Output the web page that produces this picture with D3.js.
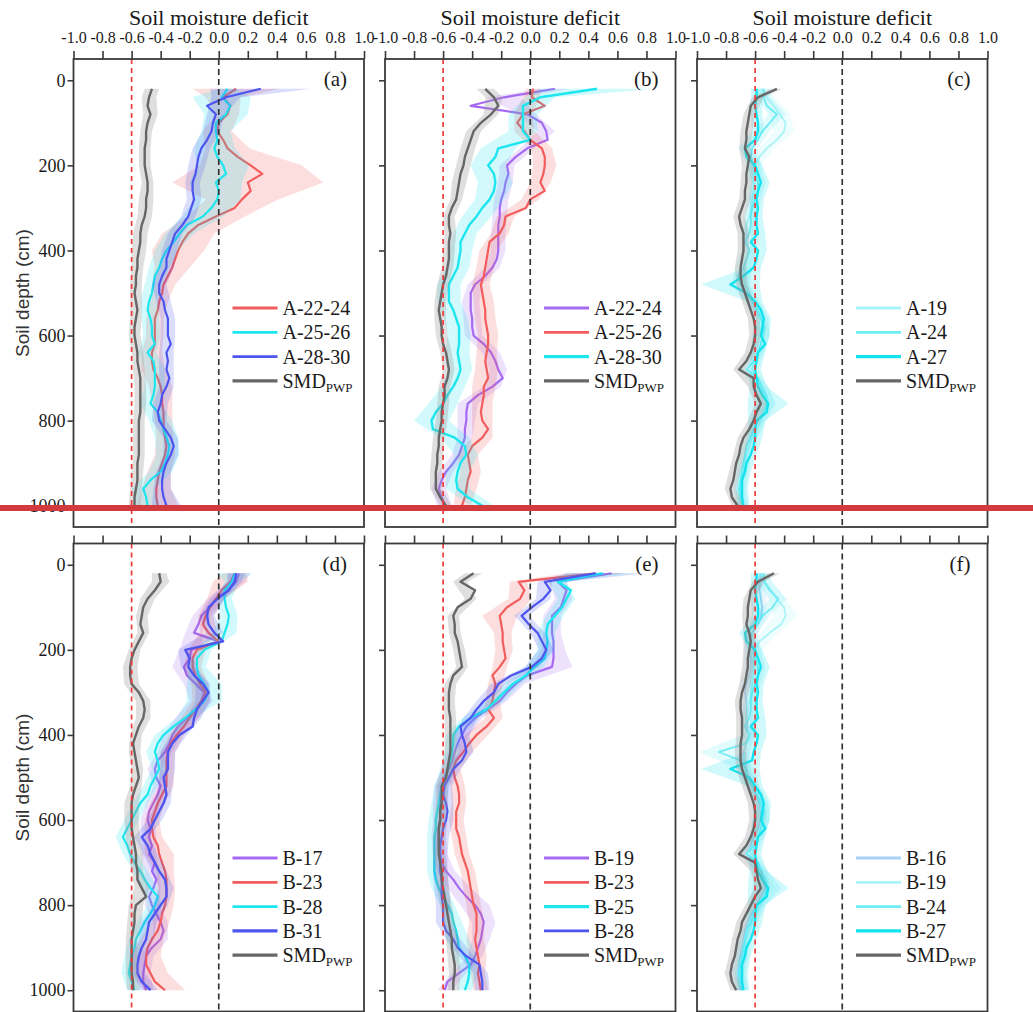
<!DOCTYPE html>
<html><head><meta charset="utf-8">
<script src="https://cdn.jsdelivr.net/npm/d3@7"></script>
<style>body{margin:0;background:#fff}</style>
</head><body>
<svg id="chart" width="1033" height="1012"></svg>
<script>
// ---------------- DATA ----------------
const depthCm = [20,40,60,80,100,120,140,160,180,200,220,240,260,280,300,320,340,360,380,400,420,440,460,480,500,520,540,560,580,600,620,640,660,680,700,720,740,760,780,800,820,840,860,880,900,920,940,960,980,1000];
const bandDepthCm = [20,40,80,120,160,200,240,280,320,360,400,440,480,520,560,600,640,680,720,760,800,840,880,920,960,1000];
const xTickValues = [-1.0,-0.8,-0.6,-0.4,-0.2,0.0,0.2,0.4,0.6,0.8,1.0];
const xTickLabels = ["-1.0","-0.8","-0.6","-0.4","-0.2","0.0","0.2","0.4","0.6","0.8","1.0"];
const yTickValues = [0,200,400,600,800,1000];
const panelTags = ["(a)","(b)","(c)","(d)","(e)","(f)"];
const titleText = "Soil moisture deficit";
const yTitleText = "Soil depth (cm)";
const pwpLine = -0.6;
const zeroLine = 0.0;

// panel (a)
const a_A2224 = [0.12,0.03,0.08,0.06,0.00,-0.01,0.03,0.06,0.13,0.22,0.30,0.20,0.22,0.16,0.11,-0.02,-0.14,-0.21,-0.25,-0.28,-0.30,-0.32,-0.35,-0.38,-0.39,-0.41,-0.42,-0.44,-0.44,-0.44,-0.44,-0.46,-0.46,-0.45,-0.42,-0.40,-0.39,-0.39,-0.38,-0.38,-0.38,-0.37,-0.36,-0.37,-0.39,-0.41,-0.42,-0.43,-0.43,-0.42];
const a_A2526 = [0.06,0.02,0.08,0.05,-0.02,-0.02,-0.01,-0.03,-0.01,0.03,0.05,-0.02,0.00,-0.01,-0.05,-0.11,-0.22,-0.27,-0.31,-0.36,-0.39,-0.41,-0.44,-0.45,-0.46,-0.48,-0.49,-0.47,-0.46,-0.46,-0.44,-0.49,-0.45,-0.44,-0.44,-0.44,-0.45,-0.47,-0.42,-0.40,-0.38,-0.36,-0.34,-0.35,-0.37,-0.40,-0.47,-0.52,-0.50,-0.49];
const a_A2830 = [0.29,0.05,-0.08,-0.02,-0.04,-0.05,-0.08,-0.12,-0.14,-0.15,-0.16,-0.18,-0.18,-0.17,-0.19,-0.21,-0.25,-0.30,-0.32,-0.34,-0.36,-0.36,-0.39,-0.41,-0.41,-0.38,-0.37,-0.35,-0.35,-0.35,-0.33,-0.36,-0.35,-0.36,-0.34,-0.36,-0.39,-0.40,-0.42,-0.41,-0.37,-0.33,-0.31,-0.33,-0.36,-0.38,-0.39,-0.39,-0.38,-0.36];
const a_SMD = [-0.46,-0.48,-0.49,-0.47,-0.49,-0.50,-0.50,-0.51,-0.51,-0.51,-0.50,-0.49,-0.49,-0.50,-0.50,-0.51,-0.53,-0.54,-0.54,-0.55,-0.56,-0.56,-0.57,-0.57,-0.58,-0.57,-0.56,-0.57,-0.58,-0.58,-0.57,-0.56,-0.56,-0.55,-0.54,-0.54,-0.54,-0.54,-0.54,-0.55,-0.55,-0.55,-0.55,-0.55,-0.56,-0.56,-0.56,-0.57,-0.58,-0.58];
const a_A2224_sd = [0.30,0.12,0.08,0.10,0.15,0.35,0.52,0.25,0.20,0.18,0.18,0.12,0.08,0.06,0.06,0.06,0.07,0.08,0.08,0.07,0.06,0.06,0.07,0.08,0.10,0.14];
const a_A2526_sd = [0.06,0.20,0.15,0.10,0.14,0.18,0.18,0.16,0.14,0.10,0.08,0.07,0.06,0.06,0.06,0.06,0.06,0.07,0.07,0.07,0.08,0.08,0.08,0.08,0.08,0.08];
const a_A2830_sd = [0.35,0.10,0.06,0.06,0.06,0.06,0.05,0.05,0.05,0.05,0.05,0.05,0.05,0.05,0.05,0.05,0.05,0.05,0.05,0.05,0.05,0.05,0.05,0.05,0.06,0.10];
const a_SMD_sd = [0.05,0.05,0.05,0.04,0.04,0.04,0.04,0.05,0.05,0.05,0.05,0.04,0.04,0.04,0.04,0.04,0.04,0.04,0.04,0.04,0.04,0.04,0.04,0.04,0.04,0.04];

// panel (b)
const b_A2224 = [0.17,-0.18,-0.41,-0.02,0.08,0.11,0.12,-0.02,-0.10,-0.16,-0.15,-0.17,-0.18,-0.20,-0.21,-0.21,-0.22,-0.22,-0.22,-0.22,-0.23,-0.26,-0.31,-0.38,-0.41,-0.41,-0.41,-0.40,-0.40,-0.39,-0.32,-0.27,-0.24,-0.22,-0.19,-0.26,-0.36,-0.43,-0.44,-0.44,-0.45,-0.45,-0.47,-0.49,-0.53,-0.58,-0.61,-0.63,-0.61,-0.59];
const b_A2526 = [0.02,0.01,0.10,-0.05,-0.09,-0.04,0.00,0.08,0.10,0.10,0.09,0.07,0.10,0.00,-0.03,-0.17,-0.18,-0.21,-0.28,-0.29,-0.30,-0.31,-0.32,-0.34,-0.33,-0.32,-0.31,-0.31,-0.30,-0.29,-0.29,-0.30,-0.31,-0.30,-0.29,-0.32,-0.32,-0.33,-0.34,-0.33,-0.29,-0.33,-0.40,-0.43,-0.42,-0.41,-0.43,-0.44,-0.45,-0.47];
const b_A2830 = [0.46,0.07,-0.05,-0.05,-0.05,-0.05,0.00,-0.22,-0.24,-0.29,-0.25,-0.24,-0.25,-0.28,-0.33,-0.37,-0.42,-0.45,-0.48,-0.48,-0.49,-0.50,-0.53,-0.56,-0.56,-0.56,-0.53,-0.51,-0.49,-0.49,-0.49,-0.50,-0.49,-0.48,-0.50,-0.53,-0.57,-0.60,-0.65,-0.68,-0.67,-0.52,-0.45,-0.44,-0.48,-0.50,-0.51,-0.50,-0.43,-0.33];
const b_SMD = [-0.31,-0.25,-0.22,-0.27,-0.34,-0.39,-0.41,-0.43,-0.45,-0.46,-0.48,-0.49,-0.50,-0.51,-0.54,-0.56,-0.56,-0.55,-0.56,-0.56,-0.56,-0.57,-0.58,-0.60,-0.61,-0.62,-0.63,-0.62,-0.61,-0.61,-0.60,-0.58,-0.57,-0.56,-0.57,-0.59,-0.59,-0.60,-0.61,-0.61,-0.62,-0.63,-0.63,-0.64,-0.64,-0.65,-0.65,-0.65,-0.62,-0.58];
const b_A2224_sd = [0.10,0.12,0.06,0.06,0.05,0.05,0.05,0.05,0.05,0.05,0.05,0.05,0.05,0.06,0.06,0.06,0.06,0.06,0.06,0.07,0.06,0.05,0.05,0.05,0.05,0.05];
const b_A2526_sd = [0.05,0.06,0.06,0.07,0.07,0.08,0.07,0.06,0.06,0.06,0.06,0.06,0.06,0.07,0.07,0.07,0.07,0.08,0.08,0.07,0.07,0.07,0.07,0.07,0.07,0.06];
const b_A2830_sd = [0.40,0.10,0.10,0.10,0.12,0.12,0.12,0.10,0.10,0.08,0.08,0.08,0.08,0.08,0.08,0.08,0.08,0.08,0.08,0.10,0.12,0.10,0.08,0.08,0.08,0.08];
const b_SMD_sd = [0.06,0.06,0.05,0.05,0.05,0.05,0.05,0.04,0.04,0.04,0.04,0.04,0.04,0.04,0.04,0.04,0.04,0.04,0.04,0.04,0.04,0.04,0.04,0.04,0.04,0.04];

// panel (c)
const c_A19 = [-0.55,-0.52,-0.47,-0.43,-0.39,-0.40,-0.45,-0.52,-0.57,-0.60,-0.61,-0.61,-0.61,-0.62,-0.63,-0.64,-0.66,-0.66,-0.66,-0.64,-0.66,-0.67,-0.68,-0.67,-0.64,-0.61,-0.58,-0.55,-0.53,-0.54,-0.56,-0.58,-0.60,-0.62,-0.58,-0.55,-0.52,-0.51,-0.54,-0.56,-0.59,-0.62,-0.64,-0.66,-0.67,-0.68,-0.69,-0.70,-0.69,-0.68];
const c_A24 = [-0.54,-0.54,-0.52,-0.45,-0.50,-0.55,-0.58,-0.62,-0.63,-0.61,-0.60,-0.58,-0.58,-0.60,-0.62,-0.63,-0.63,-0.64,-0.67,-0.64,-0.66,-0.68,-0.72,-0.70,-0.66,-0.62,-0.59,-0.56,-0.54,-0.55,-0.56,-0.58,-0.61,-0.66,-0.58,-0.56,-0.53,-0.52,-0.54,-0.58,-0.61,-0.63,-0.66,-0.67,-0.68,-0.69,-0.70,-0.71,-0.70,-0.69];
const c_A27 = [-0.59,-0.59,-0.60,-0.59,-0.58,-0.58,-0.60,-0.67,-0.66,-0.60,-0.58,-0.56,-0.58,-0.59,-0.58,-0.59,-0.59,-0.58,-0.63,-0.58,-0.59,-0.61,-0.68,-0.77,-0.66,-0.60,-0.56,-0.54,-0.55,-0.56,-0.53,-0.58,-0.59,-0.60,-0.59,-0.58,-0.55,-0.51,-0.52,-0.59,-0.60,-0.60,-0.61,-0.63,-0.66,-0.67,-0.69,-0.69,-0.69,-0.68];
const c_SMD = [-0.45,-0.58,-0.63,-0.64,-0.65,-0.66,-0.66,-0.67,-0.64,-0.65,-0.66,-0.66,-0.67,-0.67,-0.69,-0.71,-0.70,-0.68,-0.68,-0.68,-0.69,-0.70,-0.70,-0.69,-0.67,-0.65,-0.63,-0.61,-0.60,-0.60,-0.61,-0.63,-0.66,-0.71,-0.61,-0.61,-0.59,-0.56,-0.59,-0.61,-0.64,-0.68,-0.70,-0.71,-0.73,-0.74,-0.75,-0.77,-0.76,-0.72];
const c_A19_sd = [0.04,0.05,0.07,0.07,0.05,0.04,0.04,0.04,0.04,0.04,0.04,0.04,0.04,0.04,0.04,0.04,0.04,0.04,0.04,0.05,0.04,0.04,0.04,0.04,0.04,0.04];
const c_A24_sd = [0.04,0.05,0.06,0.05,0.04,0.05,0.05,0.04,0.04,0.05,0.05,0.06,0.06,0.05,0.05,0.05,0.04,0.04,0.05,0.06,0.05,0.04,0.04,0.04,0.04,0.04];
const c_A27_sd = [0.04,0.04,0.04,0.04,0.04,0.05,0.06,0.05,0.04,0.05,0.06,0.05,0.20,0.05,0.05,0.06,0.05,0.04,0.06,0.14,0.06,0.05,0.04,0.04,0.04,0.04];
const c_SMD_sd = [0.04,0.04,0.04,0.04,0.04,0.04,0.04,0.04,0.04,0.04,0.04,0.04,0.04,0.04,0.04,0.04,0.04,0.04,0.04,0.04,0.04,0.04,0.04,0.04,0.04,0.04];

// panel (d)
const d_B17 = [0.14,0.12,0.06,-0.02,-0.06,-0.12,-0.14,-0.17,0.00,-0.19,-0.20,-0.24,-0.22,-0.16,-0.10,-0.12,-0.16,-0.22,-0.28,-0.32,-0.34,-0.37,-0.42,-0.44,-0.43,-0.40,-0.42,-0.45,-0.48,-0.49,-0.47,-0.48,-0.46,-0.48,-0.44,-0.46,-0.43,-0.45,-0.48,-0.46,-0.43,-0.40,-0.38,-0.40,-0.46,-0.50,-0.51,-0.52,-0.52,-0.50];
const d_B23 = [0.11,0.08,0.02,-0.02,-0.06,-0.09,-0.11,-0.07,0.00,-0.15,-0.18,-0.18,-0.16,-0.13,-0.09,-0.12,-0.16,-0.20,-0.24,-0.29,-0.33,-0.35,-0.36,-0.36,-0.36,-0.36,-0.39,-0.42,-0.44,-0.46,-0.46,-0.45,-0.42,-0.41,-0.39,-0.37,-0.36,-0.36,-0.36,-0.37,-0.39,-0.40,-0.42,-0.46,-0.49,-0.50,-0.50,-0.47,-0.44,-0.37];
const d_B28 = [0.11,0.09,0.04,0.04,0.05,0.07,0.06,0.04,0.02,-0.10,-0.15,-0.15,-0.14,-0.10,-0.07,-0.10,-0.16,-0.23,-0.31,-0.38,-0.42,-0.44,-0.42,-0.41,-0.44,-0.47,-0.49,-0.54,-0.57,-0.60,-0.63,-0.66,-0.63,-0.61,-0.58,-0.54,-0.51,-0.47,-0.42,-0.44,-0.47,-0.51,-0.54,-0.57,-0.58,-0.60,-0.61,-0.62,-0.60,-0.58];
const d_B31 = [0.12,0.11,0.07,-0.01,-0.07,-0.08,-0.07,-0.03,0.03,-0.23,-0.20,-0.21,-0.17,-0.11,-0.07,-0.11,-0.15,-0.17,-0.18,-0.27,-0.32,-0.35,-0.35,-0.35,-0.38,-0.37,-0.36,-0.38,-0.41,-0.44,-0.47,-0.53,-0.49,-0.47,-0.44,-0.41,-0.37,-0.36,-0.36,-0.40,-0.44,-0.48,-0.49,-0.50,-0.53,-0.55,-0.56,-0.56,-0.53,-0.47];
const d_SMD = [-0.41,-0.40,-0.44,-0.49,-0.52,-0.53,-0.54,-0.52,-0.55,-0.58,-0.60,-0.61,-0.61,-0.60,-0.55,-0.52,-0.51,-0.52,-0.55,-0.57,-0.59,-0.58,-0.57,-0.56,-0.55,-0.57,-0.59,-0.60,-0.60,-0.60,-0.60,-0.59,-0.58,-0.57,-0.57,-0.56,-0.56,-0.53,-0.50,-0.57,-0.58,-0.58,-0.59,-0.60,-0.60,-0.60,-0.60,-0.60,-0.59,-0.59];
const d_B17_sd = [0.08,0.06,0.06,0.06,0.06,0.08,0.08,0.08,0.08,0.08,0.06,0.05,0.05,0.05,0.05,0.05,0.05,0.05,0.05,0.05,0.05,0.05,0.05,0.05,0.05,0.05];
const d_B23_sd = [0.08,0.12,0.06,0.05,0.06,0.06,0.06,0.06,0.06,0.06,0.05,0.05,0.05,0.05,0.05,0.05,0.06,0.10,0.06,0.06,0.06,0.06,0.08,0.10,0.12,0.14];
const d_B28_sd = [0.12,0.05,0.05,0.06,0.08,0.05,0.06,0.12,0.12,0.06,0.06,0.06,0.05,0.05,0.05,0.05,0.05,0.05,0.05,0.05,0.05,0.05,0.05,0.05,0.05,0.05];
const d_B31_sd = [0.06,0.05,0.05,0.05,0.06,0.05,0.05,0.05,0.05,0.05,0.05,0.05,0.05,0.05,0.05,0.05,0.05,0.05,0.05,0.05,0.05,0.05,0.05,0.05,0.05,0.05];
const d_SMD_sd = [0.05,0.06,0.05,0.04,0.04,0.04,0.05,0.05,0.05,0.05,0.04,0.04,0.04,0.04,0.05,0.05,0.05,0.05,0.04,0.05,0.05,0.05,0.04,0.04,0.04,0.04];

// panel (e)
const e_B19 = [0.56,0.19,0.25,0.23,0.21,0.15,0.15,0.15,0.16,0.16,0.16,0.15,-0.02,-0.10,-0.16,-0.21,-0.29,-0.38,-0.44,-0.47,-0.50,-0.52,-0.54,-0.56,-0.59,-0.61,-0.61,-0.62,-0.62,-0.62,-0.63,-0.63,-0.63,-0.62,-0.61,-0.58,-0.53,-0.49,-0.44,-0.38,-0.34,-0.32,-0.33,-0.34,-0.36,-0.38,-0.41,-0.49,-0.57,-0.59];
const e_B23 = [0.45,-0.08,-0.04,-0.07,-0.16,-0.21,-0.20,-0.19,-0.19,-0.18,-0.17,-0.21,-0.26,-0.24,-0.25,-0.26,-0.29,-0.25,-0.30,-0.37,-0.42,-0.46,-0.51,-0.53,-0.52,-0.50,-0.49,-0.49,-0.51,-0.51,-0.51,-0.49,-0.48,-0.47,-0.45,-0.43,-0.42,-0.41,-0.40,-0.39,-0.37,-0.37,-0.37,-0.38,-0.37,-0.36,-0.35,-0.36,-0.35,-0.34];
const e_B25 = [0.50,0.19,0.28,0.25,0.22,0.17,0.12,0.11,0.12,0.11,0.10,0.03,-0.03,-0.12,-0.18,-0.24,-0.30,-0.41,-0.49,-0.53,-0.53,-0.54,-0.55,-0.57,-0.58,-0.61,-0.62,-0.63,-0.64,-0.65,-0.65,-0.66,-0.66,-0.66,-0.66,-0.66,-0.65,-0.63,-0.60,-0.57,-0.54,-0.53,-0.51,-0.50,-0.49,-0.45,-0.42,-0.42,-0.43,-0.45];
const e_B28 = [0.45,0.10,0.14,0.09,0.01,-0.06,-0.01,0.05,0.08,0.11,0.08,0.01,-0.13,-0.22,-0.25,-0.32,-0.37,-0.41,-0.48,-0.47,-0.45,-0.44,-0.47,-0.53,-0.56,-0.59,-0.60,-0.58,-0.57,-0.58,-0.60,-0.61,-0.62,-0.62,-0.62,-0.62,-0.61,-0.61,-0.61,-0.60,-0.60,-0.60,-0.58,-0.53,-0.50,-0.44,-0.35,-0.34,-0.33,-0.33];
const e_SMD = [-0.39,-0.48,-0.38,-0.41,-0.50,-0.53,-0.52,-0.52,-0.50,-0.49,-0.48,-0.47,-0.53,-0.55,-0.56,-0.56,-0.56,-0.55,-0.55,-0.55,-0.55,-0.55,-0.56,-0.57,-0.58,-0.61,-0.61,-0.61,-0.62,-0.62,-0.63,-0.63,-0.63,-0.63,-0.62,-0.61,-0.61,-0.60,-0.59,-0.58,-0.57,-0.56,-0.55,-0.54,-0.54,-0.53,-0.52,-0.52,-0.53,-0.53];
const e_B19_sd = [0.25,0.06,0.06,0.06,0.06,0.08,0.14,0.06,0.05,0.05,0.05,0.05,0.05,0.05,0.05,0.05,0.05,0.05,0.06,0.08,0.10,0.08,0.06,0.05,0.05,0.05];
const e_B23_sd = [0.20,0.06,0.08,0.12,0.06,0.06,0.05,0.05,0.05,0.06,0.08,0.06,0.05,0.05,0.05,0.05,0.05,0.05,0.05,0.05,0.05,0.05,0.06,0.06,0.05,0.05];
const e_B25_sd = [0.25,0.06,0.06,0.06,0.06,0.06,0.06,0.06,0.06,0.06,0.05,0.05,0.05,0.05,0.05,0.05,0.05,0.05,0.05,0.05,0.05,0.06,0.08,0.08,0.06,0.05];
const e_B28_sd = [0.20,0.05,0.05,0.05,0.05,0.05,0.05,0.05,0.05,0.05,0.05,0.05,0.05,0.05,0.05,0.05,0.05,0.05,0.05,0.05,0.05,0.05,0.05,0.05,0.05,0.05];
const e_SMD_sd = [0.06,0.05,0.04,0.04,0.04,0.04,0.04,0.04,0.04,0.04,0.04,0.04,0.04,0.04,0.04,0.04,0.04,0.04,0.04,0.04,0.04,0.04,0.04,0.04,0.04,0.04];

// panel (f)
const f_B16 = [-0.56,-0.57,-0.57,-0.56,-0.55,-0.56,-0.58,-0.62,-0.63,-0.64,-0.63,-0.63,-0.64,-0.66,-0.67,-0.66,-0.65,-0.66,-0.65,-0.64,-0.66,-0.68,-0.68,-0.67,-0.65,-0.62,-0.59,-0.57,-0.56,-0.56,-0.58,-0.61,-0.63,-0.66,-0.59,-0.56,-0.54,-0.53,-0.56,-0.59,-0.62,-0.65,-0.67,-0.68,-0.69,-0.70,-0.71,-0.72,-0.71,-0.70];
const f_B19 = [-0.56,-0.53,-0.49,-0.45,-0.40,-0.39,-0.42,-0.50,-0.57,-0.60,-0.61,-0.61,-0.61,-0.62,-0.63,-0.64,-0.66,-0.66,-0.66,-0.64,-0.66,-0.67,-0.68,-0.67,-0.64,-0.61,-0.58,-0.55,-0.53,-0.54,-0.56,-0.58,-0.60,-0.62,-0.58,-0.55,-0.52,-0.51,-0.54,-0.56,-0.59,-0.62,-0.64,-0.66,-0.67,-0.68,-0.69,-0.70,-0.69,-0.68];
const f_B24 = [-0.54,-0.54,-0.50,-0.44,-0.48,-0.55,-0.58,-0.62,-0.63,-0.61,-0.60,-0.58,-0.58,-0.60,-0.62,-0.63,-0.63,-0.64,-0.67,-0.64,-0.66,-0.85,-0.70,-0.66,-0.66,-0.62,-0.59,-0.56,-0.54,-0.55,-0.56,-0.58,-0.61,-0.66,-0.58,-0.56,-0.53,-0.52,-0.54,-0.58,-0.61,-0.63,-0.66,-0.67,-0.68,-0.69,-0.70,-0.71,-0.70,-0.69];
const f_B27 = [-0.59,-0.59,-0.60,-0.59,-0.58,-0.58,-0.60,-0.67,-0.66,-0.60,-0.58,-0.56,-0.58,-0.59,-0.58,-0.59,-0.59,-0.58,-0.63,-0.58,-0.59,-0.61,-0.62,-0.77,-0.64,-0.60,-0.56,-0.54,-0.55,-0.56,-0.53,-0.58,-0.59,-0.60,-0.59,-0.58,-0.55,-0.51,-0.52,-0.59,-0.60,-0.60,-0.61,-0.63,-0.66,-0.67,-0.69,-0.69,-0.69,-0.68];
const f_SMD = [-0.47,-0.58,-0.63,-0.64,-0.65,-0.65,-0.66,-0.64,-0.63,-0.64,-0.65,-0.65,-0.66,-0.67,-0.69,-0.70,-0.70,-0.69,-0.69,-0.69,-0.70,-0.70,-0.70,-0.69,-0.67,-0.65,-0.63,-0.61,-0.60,-0.60,-0.61,-0.63,-0.66,-0.71,-0.60,-0.59,-0.58,-0.56,-0.60,-0.63,-0.66,-0.69,-0.70,-0.72,-0.73,-0.74,-0.76,-0.77,-0.76,-0.73];
const f_B16_sd = [0.04,0.04,0.04,0.04,0.04,0.04,0.04,0.04,0.04,0.04,0.04,0.04,0.04,0.04,0.04,0.04,0.04,0.04,0.04,0.04,0.04,0.04,0.04,0.04,0.04,0.04];
const f_B19_sd = [0.04,0.05,0.06,0.08,0.06,0.04,0.04,0.04,0.04,0.04,0.04,0.04,0.04,0.04,0.04,0.04,0.04,0.04,0.04,0.05,0.04,0.04,0.04,0.04,0.04,0.04];
const f_B24_sd = [0.04,0.05,0.06,0.05,0.04,0.05,0.05,0.04,0.04,0.05,0.05,0.13,0.06,0.05,0.05,0.05,0.04,0.04,0.05,0.10,0.05,0.04,0.04,0.04,0.04,0.04];
const f_B27_sd = [0.04,0.04,0.04,0.04,0.04,0.05,0.06,0.05,0.04,0.05,0.06,0.05,0.20,0.05,0.05,0.06,0.05,0.04,0.06,0.14,0.06,0.05,0.04,0.04,0.04,0.04];
const f_SMD_sd = [0.04,0.04,0.04,0.04,0.04,0.04,0.04,0.04,0.04,0.04,0.04,0.04,0.04,0.04,0.04,0.04,0.04,0.04,0.04,0.04,0.04,0.04,0.04,0.04,0.04,0.04];

// ---------------- STYLE / LAYOUT ----------------
const RED = "#f25c5c", CYAN = "#1de6ef", BLUE = "#4d55ee", PURPLE = "#a66af2", GRAY = "#666666";
const CY1 = "#a8f3f7", CY2 = "#6decf5", CY3 = "#12e3ee", LB = "#a9d2f5";
const SERIF = "'Liberation Serif','Times New Roman',serif";
const SANS = "'Liberation Sans',Arial,sans-serif";
const colLeft = [73.5, 385, 697];
const rowTop = [59, 543.5];
const PW = 290.5, PH = 468;
const legendTop = [308, 858];
const legendGap = 24.3;

const panels = [
  {col:0,row:0,series:[
    {name:"A-22-24",v:a_A2224,sd:a_A2224_sd,color:RED,w:2.2},
    {name:"A-25-26",v:a_A2526,sd:a_A2526_sd,color:CYAN,w:2.2},
    {name:"A-28-30",v:a_A2830,sd:a_A2830_sd,color:BLUE,w:2.2},
    {name:"SMD",sub:"PWP",v:a_SMD,sd:a_SMD_sd,color:GRAY,w:2.4,gray:true}]},
  {col:1,row:0,series:[
    {name:"A-22-24",v:b_A2224,sd:b_A2224_sd,color:PURPLE,w:2.2},
    {name:"A-25-26",v:b_A2526,sd:b_A2526_sd,color:RED,w:2.2},
    {name:"A-28-30",v:b_A2830,sd:b_A2830_sd,color:CYAN,w:2.4},
    {name:"SMD",sub:"PWP",v:b_SMD,sd:b_SMD_sd,color:GRAY,w:2.4,gray:true}]},
  {col:2,row:0,series:[
    {name:"A-19",v:c_A19,sd:c_A19_sd,color:CY1,w:1.8},
    {name:"A-24",v:c_A24,sd:c_A24_sd,color:CY2,w:1.8},
    {name:"A-27",v:c_A27,sd:c_A27_sd,color:CY3,w:2.4},
    {name:"SMD",sub:"PWP",v:c_SMD,sd:c_SMD_sd,color:GRAY,w:2.4,gray:true}]},
  {col:0,row:1,series:[
    {name:"B-17",v:d_B17,sd:d_B17_sd,color:PURPLE,w:2.2},
    {name:"B-23",v:d_B23,sd:d_B23_sd,color:RED,w:2.2},
    {name:"B-28",v:d_B28,sd:d_B28_sd,color:CYAN,w:2.2},
    {name:"B-31",v:d_B31,sd:d_B31_sd,color:BLUE,w:2.4},
    {name:"SMD",sub:"PWP",v:d_SMD,sd:d_SMD_sd,color:GRAY,w:2.4,gray:true}]},
  {col:1,row:1,series:[
    {name:"B-19",v:e_B19,sd:e_B19_sd,color:PURPLE,w:2.2},
    {name:"B-23",v:e_B23,sd:e_B23_sd,color:RED,w:2.2},
    {name:"B-25",v:e_B25,sd:e_B25_sd,color:CYAN,w:2.4},
    {name:"B-28",v:e_B28,sd:e_B28_sd,color:BLUE,w:2.2},
    {name:"SMD",sub:"PWP",v:e_SMD,sd:e_SMD_sd,color:GRAY,w:2.4,gray:true}]},
  {col:2,row:1,series:[
    {name:"B-16",v:f_B16,sd:f_B16_sd,color:LB,w:1.8},
    {name:"B-19",v:f_B19,sd:f_B19_sd,color:CY1,w:1.8},
    {name:"B-24",v:f_B24,sd:f_B24_sd,color:CY2,w:1.8},
    {name:"B-27",v:f_B27,sd:f_B27_sd,color:CY3,w:2.4},
    {name:"SMD",sub:"PWP",v:f_SMD,sd:f_SMD_sd,color:GRAY,w:2.4,gray:true}]}
];

// ---------------- DRAW ----------------
const svg = d3.select("#chart");
svg.append("rect").attr("width",1033).attr("height",1012).attr("fill","#fff");
const defs = svg.append("defs");

panels.forEach((p, pi) => {
  const left = colLeft[p.col], top = rowTop[p.row];
  const x = d3.scaleLinear().domain([-1, 1]).range([left, left + PW]);
  const y = d3.scaleLinear().domain([-50, 1050]).range([top, top + PH]);
  const g = svg.append("g");
  const clipId = "clip" + pi;
  defs.append("clipPath").attr("id", clipId).append("rect")
    .attr("x", left).attr("y", top).attr("width", PW).attr("height", PH);
  const plot = g.append("g").attr("clip-path", `url(#${clipId})`);

  const area = d3.area().y(e => y(e.d)).x0(e => x(e.c - e.h)).x1(e => x(e.c + e.h));
  const line = d3.line().x(e => x(e.v)).y(e => y(e.d));

  p.series.forEach(s => {
    const band = bandDepthCm.map((d, i) => ({d, c: s.v[depthCm.indexOf(d)], h: s.sd[i]}));
    plot.append("path").datum(band)
      .attr("fill", s.gray ? "#9a9a9a" : s.color)
      .attr("fill-opacity", s.gray ? 0.32 : 0.2)
      .attr("d", area);
    plot.append("path").datum(depthCm.map((d, i) => ({d, v: s.v[i]})))
      .attr("fill", "none").attr("stroke", s.color).attr("stroke-width", s.w)
      .attr("stroke-linejoin", "round").attr("d", line);
  });

  // reference dashed lines
  plot.append("line").attr("x1", x(pwpLine)).attr("x2", x(pwpLine)).attr("y1", top).attr("y2", top + PH)
    .attr("stroke", "#f03a3a").attr("stroke-width", 1.7).attr("stroke-dasharray", "5,4");
  plot.append("line").attr("x1", x(zeroLine)).attr("x2", x(zeroLine)).attr("y1", top).attr("y2", top + PH)
    .attr("stroke", "#333").attr("stroke-width", 1.7).attr("stroke-dasharray", "6,4");

  // frame
  g.append("rect").attr("x", left).attr("y", top).attr("width", PW).attr("height", PH)
    .attr("fill", "none").attr("stroke", "#3a3a3a").attr("stroke-width", 1.8);

  // top axis
  const ax = g.append("g").attr("transform", `translate(0,${top})`)
    .call(d3.axisTop(x).tickValues(xTickValues).tickSize(8).tickSizeOuter(0).tickPadding(8)
      .tickFormat((d, i) => p.row === 0 ? xTickLabels[i] : ""));
  ax.select(".domain").remove();
  ax.selectAll("line").attr("stroke", "#3a3a3a").attr("stroke-width", 1.6);
  ax.selectAll("text").attr("font-family", SERIF).attr("font-size", 16).attr("fill", "#1a1a1a");

  // left axis
  const ay = g.append("g").attr("transform", `translate(${left},0)`)
    .call(d3.axisLeft(y).tickValues(yTickValues).tickSize(6).tickSizeOuter(0).tickPadding(2)
      .tickFormat(d => p.col === 0 ? String(d) : ""));
  ay.select(".domain").remove();
  ay.selectAll("line").attr("stroke", "#3a3a3a").attr("stroke-width", 1.6);
  ay.selectAll("text").attr("font-family", SERIF).attr("font-size", 18).attr("fill", "#1a1a1a");

  // title
  if (p.row === 0) {
    g.append("text").attr("x", left + PW / 2).attr("y", 25).attr("text-anchor", "middle")
      .attr("font-family", SERIF).attr("font-size", 22).attr("fill", "#1a1a1a").text(titleText);
  }
  // y title
  if (p.col === 0) {
    g.append("text").attr("transform", `translate(29,${top + PH / 2}) rotate(-90)`)
      .attr("text-anchor", "middle").attr("font-family", SANS).attr("font-size", 19)
      .attr("fill", "#333").text(yTitleText);
  }
  // panel tag
  g.append("text").attr("x", left + PW - 17).attr("y", top + 27).attr("text-anchor", "end")
    .attr("font-family", SERIF).attr("font-size", 21).attr("fill", "#1a1a1a").text(panelTags[pi]);

  // legend
  p.series.forEach((s, i) => {
    const ly = legendTop[p.row] + i * legendGap;
    g.append("line").attr("x1", left + 159).attr("x2", left + 204).attr("y1", ly).attr("y2", ly)
      .attr("stroke", s.color).attr("stroke-width", s.w >= 2.4 ? 3.2 : 2.8);
    const t = g.append("text").attr("x", left + 209).attr("y", ly + 7)
      .attr("font-family", SERIF).attr("font-size", 20).attr("fill", "#1a1a1a").text(s.name);
    if (s.sub) t.append("tspan").attr("font-size", 13).attr("dy", 4).text(s.sub);
  });
});

// horizontal red marker line across the figure
svg.append("line").attr("x1", 0).attr("x2", 1033).attr("y1", 508).attr("y2", 508)
  .attr("stroke", "#d23a3e").attr("stroke-width", 6);
</script>
</body></html>
